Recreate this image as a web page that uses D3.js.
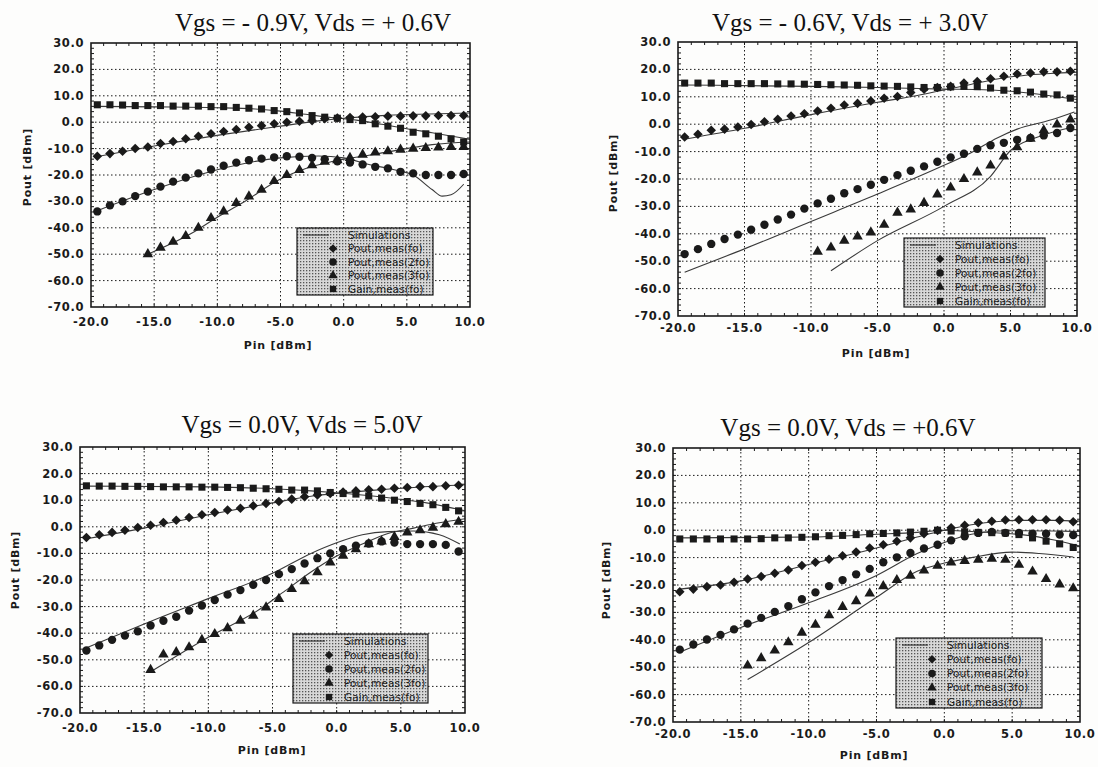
<!DOCTYPE html>
<html>
<head>
<meta charset="utf-8">
<script src="https://cdn.jsdelivr.net/npm/d3@7"></script>
<style>
body { margin: 0; background: #fdfdfc; }
svg { display: block; }
</style>
</head>
<body>
<svg id="chart" width="1098" height="767"></svg>
<script>
// measured Pin points (dBm), same for all four panels
const pinMeas = [-19.5, -18.5, -17.5, -16.5, -15.5, -14.5, -13.5, -12.5, -11.5, -10.5,
                 -9.5, -8.5, -7.5, -6.5, -5.5, -4.5, -3.5, -2.5, -1.5, -0.5,
                 0.5, 1.5, 2.5, 3.5, 4.5, 5.5, 6.5, 7.5, 8.5, 9.5];
const xTicks = [-20, -15, -10, -5, 0, 5, 10];
const yTicks = [30, 20, 10, 0, -10, -20, -30, -40, -50, -60, -70];
const titles = ["Vgs = - 0.9V, Vds = + 0.6V", "Vgs = - 0.6V, Vds = + 3.0V",
                "Vgs = 0.0V, Vds = 5.0V", "Vgs = 0.0V, Vds = +0.6V"];
const legendLabels = ["Simulations", "Pout,meas(fo)", "Pout,meas(2fo)", "Pout,meas(3fo)", "Gain,meas(fo)"];

// panel 1 : Vgs=-0.9, Vds=0.6
const p1Gain = [6.6, 6.6, 6.5, 6.3, 6.3, 6.3, 6.1, 6.1, 6.1, 5.9, 5.9, 5.6, 5.3, 5.0, 4.4, 4.0, 3.5, 2.5, 1.9, 1.5,
                1.0, 0.6, -0.6, -1.5, -2.3, -3.8, -4.4, -5.3, -6.3, -7.5];
const p1Fo = [-12.9, -11.9, -11.0, -10.0, -9.4, -8.1, -7.3, -6.3, -5.3, -4.4, -3.5, -2.8, -1.9, -1.3, -0.6, 0.0, 0.4, 0.6, 1.3, 1.6,
              1.8, 2.0, 2.1, 2.3, 2.3, 2.4, 2.4, 2.5, 2.5, 2.5];
const p1F2 = [-33.8, -31.5, -30.0, -28.0, -26.3, -24.4, -22.5, -21.0, -19.4, -17.9, -16.5, -15.3, -14.4, -13.8, -13.3, -12.9, -13.1, -13.5, -14.0, -14.8,
              -15.3, -16.0, -16.9, -17.5, -18.8, -19.4, -20.0, -20.0, -20.0, -19.6];
const p1F3 = [null, null, null, null, -50.0, -47.5, -45.3, -43.1, -40.0, -36.3, -33.8, -30.6, -28.1, -25.6, -22.3, -20.0, -18.1, -16.3, -15.0, -14.4,
              -13.5, -12.3, -11.5, -11.0, -10.4, -10.0, -9.8, -9.6, -9.4, -9.4];
const p1SimGain = [[-19.5, 6], [-15, 5.8], [-10, 5.5], [-7, 5], [-5, 4.2], [-3, 3], [-1, 1.8], [1, 0.8], [3, -0.8], [5, -2.5], [7, -4], [10, -6.5]];
const p1SimFo = [[-19.5, -13], [-15, -9], [-10, -5], [-5, -1.5], [-2, 0.5], [0, 1.5], [3, 2.5], [6, 3], [10, 3.5]];
const p1SimF2 = [[-19.5, -33.5], [-15, -25.5], [-10, -18], [-5, -13.5], [-2, -12.8], [0, -13.5], [2, -16], [4, -18], [5.5, -20],
                 [7, -25.5], [7.8, -28], [8.5, -27.5], [9.5, -23.5]];
const p1SimF3 = [[-15.5, -50], [-12, -42], [-10, -36], [-8, -30.5], [-5, -21.5], [-3, -17.5], [-1, -15], [0, -14], [2, -12.5], [5, -10], [7, -8.5], [10, -7.5]];

// panel 2 : Vgs=-0.6, Vds=3.0
const p2Gain = [15.0, 15.0, 15.0, 14.8, 14.8, 14.8, 14.8, 14.7, 14.7, 14.6, 14.5, 14.4, 14.3, 14.2, 14.0, 13.9, 13.8, 13.6, 13.4, 13.4,
                13.6, 13.8, 13.7, 13.2, 12.4, 12.2, 11.7, 11.0, 10.7, 9.5];
const p2Fo = [-4.7, -3.7, -2.2, -1.8, -1.0, -0.1, 0.9, 1.8, 3.0, 3.8, 4.8, 5.8, 7.0, 7.6, 8.5, 9.5, 10.1, 11.6, 12.8, 13.4,
              13.8, 15.0, 15.6, 16.6, 17.5, 18.3, 18.7, 19.1, 19.1, 19.3];
const p2F2 = [-47.4, -45.6, -43.7, -41.9, -40.3, -38.5, -36.7, -34.8, -33.0, -30.8, -28.9, -27.2, -25.2, -23.7, -22.1, -20.3, -18.6, -17.0, -15.4, -13.7,
              -12.1, -10.8, -9.0, -7.7, -6.8, -5.7, -5.0, -4.1, -3.2, -1.4];
const p2F3 = [null, null, null, null, null, null, null, null, null, null,
              -46.5, -45.0, -42.5, -41.0, -39.5, -36.7, -32.3, -31.1, -28.7, -25.6,
              -23.1, -20.0, -17.6, -15.1, -11.8, -8.4, -5.3, -2.2, -0.1, 1.7];
const p2SimGain = [[-19.5, 14.3], [-10, 13.8], [-5, 13.4], [0, 12.8], [3, 12.6], [5, 12], [7, 11], [10, 9]];
const p2SimFo = [[-19.5, -5.5], [-15, -1.5], [-10, 3.5], [-5, 8], [-2, 10.5], [0, 12.5], [2, 14.5], [4, 16.5], [6, 17.8], [8, 18.5], [10, 19]];
const p2SimF2 = [[-19.5, -54], [-15, -45.5], [-10, -35.5], [-5, -25.5], [0, -15], [2, -10.5], [4, -5], [5.5, -1.8], [8, 1.5], [9.8, 4.5]];
const p2SimF3 = [[-8.5, -53.5], [-5, -42.5], [0, -30], [3.5, -19], [5, -9.6], [7, -4.8], [9.7, -1]];

// panel 3 : Vgs=0.0, Vds=5.0
const p3Gain = [15.4, 15.3, 15.3, 15.2, 15.2, 15.1, 15.0, 15.0, 15.0, 14.9, 14.9, 14.8, 14.7, 14.5, 14.3, 14.1, 13.8, 13.8, 13.5, 12.9,
                12.5, 12.3, 11.6, 10.8, 10.0, 9.5, 8.8, 8.3, 7.3, 6.0];
const p3Fo = [-4.0, -3.0, -2.1, -1.3, -0.3, 0.6, 1.6, 2.5, 3.5, 4.5, 5.4, 6.3, 7.0, 7.9, 8.8, 9.5, 10.4, 11.3, 12.0, 12.5,
              13.1, 13.5, 13.9, 14.1, 14.5, 14.8, 15.1, 15.1, 15.4, 15.6];
const p3F2 = [-46.5, -44.6, -42.5, -40.9, -39.3, -37.1, -35.3, -33.8, -31.5, -29.6, -27.5, -25.5, -23.8, -21.8, -20.0, -17.8, -15.9, -13.8, -11.8, -10.0,
              -8.4, -7.1, -6.3, -5.5, -5.9, -6.5, -6.5, -6.5, -6.8, -9.3];
const p3F3 = [null, null, null, null, null, -53.8, -48.0, -47.1, -45.3, -42.5, -40.3, -38.1, -35.3, -33.4, -30.3, -27.1, -23.4, -20.5, -17.1, -13.4,
              -10.9, -8.4, -6.5, -5.5, -3.8, -2.1, -1.3, -0.3, 1.0, 1.9];
const p3SimGain = [[-19.5, 15.3], [-10, 15], [-5, 14.3], [-2, 13.5], [0, 12.8], [3, 11.5], [5, 10.3], [7, 9], [10, 6]];
const p3SimFo = [[-19.5, -4.5], [-15, -0.5], [-10, 4.5], [-5, 9], [-2, 11.5], [0, 12.5], [3, 13.8], [6, 14.8], [10, 15.8]];
const p3SimF2 = [[-19.5, -45.5], [-15, -36.5], [-10, -27], [-5, -17.5], [-2, -10], [0, -6], [2, -3], [4, -1.8], [6, -1.6], [8, -3], [9.6, -6.5]];
const p3SimF3 = [[-14.5, -54.5], [-10, -41.5], [-6, -31], [-4, -24], [-2, -17], [0, -11], [2, -6.5], [4, -2.5], [6, -0.5], [8, 1.5], [10, 3]];

// panel 4 : Vgs=0.0, Vds=0.6
const p4Gain = [-3.2, -3.2, -3.2, -3.2, -3.2, -3.2, -3.1, -2.8, -2.8, -2.6, -2.4, -2.0, -1.9, -1.6, -1.3, -1.2, -1.0, -0.7, -0.4, 0.0,
                -0.3, -0.6, -0.8, -0.9, -1.0, -1.6, -2.8, -4.0, -5.0, -6.3];
const p4Fo = [-22.5, -21.5, -20.6, -20.0, -19.0, -17.8, -16.9, -15.7, -14.5, -12.9, -11.7, -10.6, -9.3, -8.0, -6.5, -5.3, -4.0, -2.8, -1.3, -0.1,
              0.9, 1.8, 2.7, 3.3, 3.7, 3.8, 3.8, 3.8, 3.6, 3.1];
const p4F2 = [-43.6, -41.7, -39.9, -38.2, -36.2, -34.1, -32.0, -29.8, -27.7, -25.2, -22.7, -20.4, -18.2, -16.1, -14.1, -11.7, -9.9, -8.3, -6.7, -5.3,
              -3.7, -2.2, -1.0, -0.6, -1.0, -1.0, -1.3, -1.3, -1.6, -1.8];
const p4F3 = [null, null, null, null, null, -49.4, -46.7, -43.9, -40.9, -37.4, -34.5, -31.0, -28.0, -25.9, -23.1, -20.4, -18.2, -16.6, -14.7, -13.0,
              -11.8, -11.2, -10.8, -10.4, -10.8, -12.6, -15.1, -17.8, -19.8, -21.2];
const p4SimGain = [[-19.5, -2.8], [-10, -2.5], [-5, -1.5], [-2, -0.8], [0, 0], [2, -0.5], [4, -1], [6, -1.8], [8, -3.5], [10, -5.8]];
const p4SimFo = [[-19.5, -21.5], [-15, -18.5], [-10, -12.5], [-5, -6.5], [-2, -2.5], [0, 0], [2, 2], [4, 3.2], [6, 3.6], [8, 3.6], [10, 3.3]];
const p4SimF2 = [[-19.5, -44.5], [-15, -35.5], [-10, -26.5], [-5, -16.5], [-2, -8.5], [0, -4.5], [2, -1.5], [4, -0.3], [6, -0.2], [8, -0.3], [10, -0.5]];
const p4SimF3 = [[-14.5, -54.5], [-10, -41], [-5, -24.5], [-2, -15], [0, -12], [2, -10], [5, -8], [7, -8.5], [9.5, -9.8]];

const panels = [
  { meas: [p1Fo, p1F2, p1F3, p1Gain], sims: [p1SimGain, p1SimFo, p1SimF2, p1SimF3] },
  { meas: [p2Fo, p2F2, p2F3, p2Gain], sims: [p2SimGain, p2SimFo, p2SimF2, p2SimF3] },
  { meas: [p3Fo, p3F2, p3F3, p3Gain], sims: [p3SimGain, p3SimFo, p3SimF2, p3SimF3] },
  { meas: [p4Fo, p4F2, p4F3, p4Gain], sims: [p4SimGain, p4SimFo, p4SimF2, p4SimF3] }
];

// where each scanned panel sits on the page
const boxes = [
  { l: 91, r: 470, t: 43, b: 307, tx: 15, title: [313, 31], xl: [278, 345], yl: [27, 167], leg: [297, 228, 136, 67] },
  { l: 678, r: 1077, t: 42, b: 316, tx: 12, title: [850, 31], xl: [876, 353], yl: [613, 173], leg: [904, 238, 141, 69] },
  { l: 80, r: 465, t: 447, b: 713, tx: 15, title: [302, 433], xl: [272, 750], yl: [15, 570], leg: [293, 634, 135, 69] },
  { l: 673, r: 1080, t: 448, b: 722, tx: 12, title: [848, 436], xl: [874, 755], yl: [606, 580], leg: [896, 638, 146, 70] }
];

const ink = "#1a1a1a";
const symbols = [d3.symbolDiamond2 || d3.symbolDiamond, d3.symbolCircle, d3.symbolTriangle, d3.symbolSquare];
const symSize = [58, 55, 48, 50];

const svg = d3.select("#chart");

// stipple fill of the legend boxes
const pat = svg.append("defs").append("pattern")
  .attr("id", "stipple").attr("width", 3).attr("height", 3).attr("patternUnits", "userSpaceOnUse");
pat.append("rect").attr("width", 3).attr("height", 3).attr("fill", "#d8d8d8");
pat.append("rect").attr("width", 1.3).attr("height", 1.3).attr("fill", "#555");

panels.forEach(function (p, k) {
  var b = boxes[k];
  var x = d3.scaleLinear().domain([-20, 10]).range([b.l, b.r]);
  var y = d3.scaleLinear().domain([-70, 30]).range([b.b, b.t]);
  var g = svg.append("g");

  // dotted grid
  g.selectAll(".gx").data(xTicks.slice(1, -1)).join("line")
    .attr("x1", d => x(d)).attr("x2", d => x(d)).attr("y1", b.t).attr("y2", b.b)
    .attr("stroke", ink).attr("stroke-width", 1).attr("stroke-dasharray", "1.5,2.5");
  g.selectAll(".gy").data(yTicks.slice(1, -1)).join("line")
    .attr("x1", b.l).attr("x2", b.r).attr("y1", d => y(d)).attr("y2", d => y(d))
    .attr("stroke", ink).attr("stroke-width", 1).attr("stroke-dasharray", "1.5,2.5");

  // small inward ticks on the frame
  var mx = d3.range(-19, 10, 1), my = d3.range(-68, 30, 2);
  g.selectAll(".mx").data(mx).join("path")
    .attr("d", d => "M" + x(d) + "," + b.b + "v-3M" + x(d) + "," + b.t + "v3")
    .attr("stroke", ink).attr("stroke-width", 1);
  g.selectAll(".my").data(my).join("path")
    .attr("d", d => "M" + b.l + "," + y(d) + "h3M" + b.r + "," + y(d) + "h-3")
    .attr("stroke", ink).attr("stroke-width", 1);

  // simulation curves
  var line = d3.line().x(d => x(d[0])).y(d => y(d[1])).curve(d3.curveMonotoneX);
  p.sims.forEach(function (s) {
    g.append("path").attr("d", line(s)).attr("fill", "none")
      .attr("stroke", "#3a3a3a").attr("stroke-width", 1.1);
  });

  // measured points
  p.meas.forEach(function (vals, j) {
    var pts = pinMeas.map((v, i) => [v, vals[i]]).filter(d => d[1] != null);
    g.selectAll(null).data(pts).join("path")
      .attr("d", d3.symbol().type(symbols[j]).size(symSize[j]))
      .attr("transform", d => "translate(" + x(d[0]) + "," + y(d[1]) + ")")
      .attr("fill", ink);
  });

  // legend
  var lg = g.append("g").attr("transform", "translate(" + b.leg[0] + "," + b.leg[1] + ")");
  lg.append("rect").attr("width", b.leg[2]).attr("height", b.leg[3])
    .attr("fill", "url(#stipple)").attr("stroke", ink).attr("stroke-width", 1.2);
  var rowH = (b.leg[3] - 13) / 4;
  legendLabels.forEach(function (txt, i) {
    var ry = 7 + i * rowH;
    if (i == 0) {
      lg.append("line").attr("x1", 6).attr("x2", 32).attr("y1", ry).attr("y2", ry)
        .attr("stroke", ink).attr("stroke-width", 1);
    } else {
      lg.append("path").attr("d", d3.symbol().type(symbols[i - 1]).size(symSize[i - 1] * 0.8))
        .attr("transform", "translate(36," + ry + ")").attr("fill", ink);
    }
    lg.append("text").attr("x", 51).attr("y", ry).attr("dy", "0.35em")
      .attr("font-family", "DejaVu Sans, sans-serif").attr("font-size", 10.5)
      .attr("letter-spacing", 0.1).attr("fill", ink).text(txt);
  });

  // frame
  g.append("rect").attr("x", b.l).attr("y", b.t).attr("width", b.r - b.l).attr("height", b.b - b.t)
    .attr("fill", "none").attr("stroke", ink).attr("stroke-width", 1.6);

  // tick labels
  g.selectAll(".ty").data(yTicks).join("text")
    .attr("x", b.l - 7).attr("y", d => y(d)).attr("dy", "0.35em").attr("text-anchor", "end")
    .attr("font-family", "DejaVu Sans, sans-serif").attr("font-weight", "bold").attr("font-size", 11.5)
    .attr("letter-spacing", 0.6).attr("fill", ink).text(d => d3.format(".1f")(d).replace("−", "-"));
  g.selectAll(".tx").data(xTicks).join("text")
    .attr("x", d => x(d)).attr("y", b.b + b.tx).attr("dy", "0.35em").attr("text-anchor", "middle")
    .attr("font-family", "DejaVu Sans, sans-serif").attr("font-weight", "bold").attr("font-size", 11.5)
    .attr("letter-spacing", 0.6).attr("fill", ink).text(d => d3.format(".1f")(d).replace("−", "-"));

  // axis titles
  g.append("text").attr("x", b.xl[0]).attr("y", b.xl[1]).attr("dy", "0.35em").attr("text-anchor", "middle")
    .attr("font-family", "DejaVu Sans, sans-serif").attr("font-weight", "bold").attr("font-size", 11)
    .attr("letter-spacing", 0.8).attr("fill", ink).text("Pin [dBm]");
  g.append("text").attr("transform", "translate(" + b.yl[0] + "," + b.yl[1] + ") rotate(-90)")
    .attr("dy", "0.35em").attr("text-anchor", "middle")
    .attr("font-family", "DejaVu Sans, sans-serif").attr("font-weight", "bold").attr("font-size", 11)
    .attr("letter-spacing", 0.8).attr("fill", ink).text("Pout [dBm]");

  // panel title
  g.append("text").attr("x", b.title[0]).attr("y", b.title[1]).attr("text-anchor", "middle")
    .attr("font-family", "Liberation Serif, serif").attr("font-size", 25)
    .attr("fill", "#111").text(titles[k]);
});
</script>
</body>
</html>
